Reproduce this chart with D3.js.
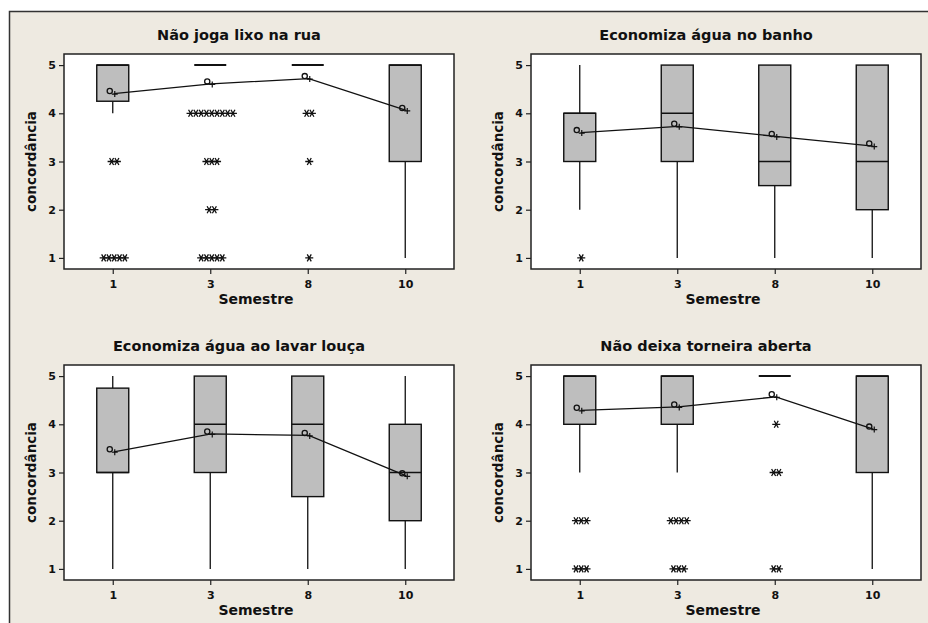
<!DOCTYPE html>
<html>
<head>
<meta charset="utf-8">
<script src="https://cdn.jsdelivr.net/npm/d3@7"></script>
<style>
  body { margin: 0; background: #fff; }
  text { font-family: "DejaVu Sans", Verdana, sans-serif; font-weight: bold; fill: #111; }
</style>
</head>
<body>
<svg id="chart" width="928" height="623"></svg>
<script>
// categorias e valores
const semestres = ["1", "3", "8", "10"];
const titulos = ["Não joga lixo na rua", "Economiza água no banho",
                 "Economiza água ao lavar louça", "Não deixa torneira aberta"];
const yTicks = [1, 2, 3, 4, 5];

// um array por painel, um valor por semestre
const q1 = [[4.25, 5, 5, 3], [3, 3, 2.5, 2], [3, 3, 2.5, 2], [4, 4, 5, 3]];
const mediana = [[5, 5, 5, 5], [4, 4, 3, 3], [3, 4, 4, 3], [5, 5, 5, 5]];
const q3 = [[5, 5, 5, 5], [4, 5, 5, 5], [4.75, 5, 5, 4], [5, 5, 5, 5]];
const bigodeInf = [[4, 5, 5, 1], [2, 1, 1, 1], [1, 1, 1, 1], [3, 3, 5, 1]];
const bigodeSup = [[5, 5, 5, 5], [5, 5, 5, 5], [5, 5, 5, 5], [5, 5, 5, 5]];
const medias = [[4.41, 4.61, 4.72, 4.06], [3.60, 3.73, 3.52, 3.32],
                [3.43, 3.80, 3.77, 2.93], [4.29, 4.36, 4.57, 3.90]];
// outliers: [valor, quantidade]
const atipicos = [
    [[[3, 2], [1, 5]], [[4, 9], [3, 3], [2, 2], [1, 5]], [[4, 2], [3, 1], [1, 1]], []],
    [[[1, 1]], [], [], []],
    [[], [], [], []],
    [[[2, 3], [1, 3]], [[2, 4], [1, 3]], [[4, 1], [3, 2], [1, 2]], []]
];

const svg = d3.select("#chart");

// fundo e moldura externa
svg.append("rect")
    .attr("x", 9.5).attr("y", 11.5)
    .attr("width", 940).attr("height", 630)
    .attr("fill", "#EEEAE1")
    .attr("stroke", "#333")
    .attr("stroke-width", 1.5);

const plotL = 64, plotT = 54, plotW = 390, plotH = 215;
const boxW = 32;
const starPath = "M-4,0L4,0M-2,-3.5L2,3.5M2,-3.5L-2,3.5";

var x = d3.scalePoint().domain(semestres).range([0, plotW]).padding(0.5);
var y = d3.scaleLinear().domain([0.77, 5.23]).range([plotH, 0]);

titulos.forEach(function (titulo, p) {
    var px = (p % 2) * 467, py = Math.floor(p / 2) * 311;
    var g = svg.append("g").attr("transform", "translate(" + px + "," + py + ")");

    g.append("text")
        .attr("x", 239).attr("y", 40)
        .attr("text-anchor", "middle")
        .style("font-size", "14.5px")
        .text(titulo);

    var plot = g.append("g").attr("transform", "translate(" + plotL + "," + plotT + ")");

    plot.append("rect")
        .attr("width", plotW).attr("height", plotH)
        .attr("fill", "#fff");

    // eixos
    var yAxis = d3.axisLeft(y).tickValues(yTicks).tickSize(5).tickPadding(3).tickFormat(d3.format("d"));
    var xAxis = d3.axisBottom(x).tickSize(5).tickPadding(6);

    var ya = plot.append("g").call(yAxis);
    var xa = plot.append("g").attr("transform", "translate(0," + plotH + ")").call(xAxis);
    [ya, xa].forEach(function (a) {
        a.select(".domain").remove();
        a.selectAll("line").attr("stroke", "#222").attr("stroke-width", 1.2);
        a.selectAll("text").style("font-size", "11px").style("font-family", "DejaVu Sans").style("font-weight", "bold");
    });

    g.append("text")
        .attr("x", plotL + plotW / 2 - 3).attr("y", 304)
        .attr("text-anchor", "middle")
        .style("font-size", "14px")
        .text("Semestre");

    g.append("text")
        .attr("transform", "translate(36," + (plotT + plotH / 2) + ") rotate(-90)")
        .attr("text-anchor", "middle")
        .style("font-size", "13.5px")
        .text("concordância");

    semestres.forEach(function (s, i) {
        var cx = x(s);
        // bigodes
        plot.append("line")
            .attr("x1", cx).attr("x2", cx)
            .attr("y1", y(q1[p][i])).attr("y2", y(bigodeInf[p][i]))
            .attr("stroke", "#111").attr("stroke-width", 1.3);
        plot.append("line")
            .attr("x1", cx).attr("x2", cx)
            .attr("y1", y(q3[p][i])).attr("y2", y(bigodeSup[p][i]))
            .attr("stroke", "#111").attr("stroke-width", 1.3);

        if (q1[p][i] == q3[p][i]) {
            plot.append("line")
                .attr("x1", cx - boxW / 2).attr("x2", cx + boxW / 2)
                .attr("y1", y(q1[p][i])).attr("y2", y(q1[p][i]))
                .attr("stroke", "#111").attr("stroke-width", 2);
        } else {
            plot.append("rect")
                .attr("x", cx - boxW / 2)
                .attr("y", y(q3[p][i]))
                .attr("width", boxW)
                .attr("height", y(q1[p][i]) - y(q3[p][i]))
                .attr("fill", "#BEBEBE")
                .attr("stroke", "#111").attr("stroke-width", 1.4);
            plot.append("line")
                .attr("x1", cx - boxW / 2).attr("x2", cx + boxW / 2)
                .attr("y1", y(mediana[p][i])).attr("y2", y(mediana[p][i]))
                .attr("stroke", "#111").attr("stroke-width", 1.6);
        }

        // outliers (asteriscos)
        atipicos[p][i].forEach(function (o) {
            for (var k = 0; k < o[1]; k++) {
                var sx = cx + 1.5 + (k - (o[1] - 1) / 2) * 5.3;
                plot.append("path")
                    .attr("d", starPath)
                    .attr("transform", "translate(" + sx + "," + y(o[0]) + ")")
                    .attr("stroke", "#111").attr("stroke-width", 1.3)
                    .attr("fill", "none");
            }
        });
    });

    // linha das medias
    var line = d3.line()
        .x(function (d, i) { return x(semestres[i]) + 1; })
        .y(function (d) { return y(d); });
    plot.append("path")
        .datum(medias[p])
        .attr("d", line)
        .attr("fill", "none")
        .attr("stroke", "#111").attr("stroke-width", 1.3);

    medias[p].forEach(function (m, i) {
        var mx = x(semestres[i]) + 1, my = y(m);
        plot.append("circle")
            .attr("cx", mx - 4).attr("cy", my - 2.5).attr("r", 2.6)
            .attr("fill", "none").attr("stroke", "#111").attr("stroke-width", 1.3);
        plot.append("path")
            .attr("d", "M" + (mx - 2) + "," + (my + 0.5) + "h6M" + (mx + 1) + "," + (my - 2.5) + "v6")
            .attr("stroke", "#111").attr("stroke-width", 1.2);
    });

    plot.append("rect")
        .attr("width", plotW).attr("height", plotH)
        .attr("fill", "none")
        .attr("stroke", "#222").attr("stroke-width", 1.5);
});
</script>
</body>
</html>
